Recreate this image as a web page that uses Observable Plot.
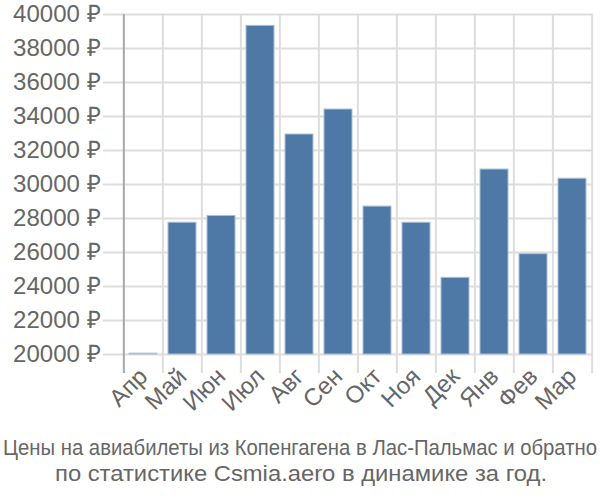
<!DOCTYPE html>
<html>
<head>
<meta charset="utf-8">
<script src="https://cdn.jsdelivr.net/npm/d3@7"></script>
<script src="https://cdn.jsdelivr.net/npm/@observablehq/plot@0.6"></script>
<style>
  body { margin: 0; background: #fff; }
  #chart svg { display: block; }
</style>
</head>
<body>
<div id="chart"></div>
<script>
const months = ["Апр","Май","Июн","Июл","Авг","Сен","Окт","Ноя","Дек","Янв","Фев","Мар"];
const prices = [20050, 27750, 28150, 39330, 32940, 34410, 28700, 27750, 24510, 30880, 25900, 30340];
const yTicks = [20000, 22000, 24000, 26000, 28000, 30000, 32000, 34000, 36000, 38000, 40000];
const captionLines = [
  "Цены на авиабилеты из Копенгагена в Лас-Пальмас и обратно",
  "по статистике Csmia.aero в динамике за год."
];

const data = months.map((m, i) => ({month: m, price: prices[i]}));
const W = 600, H = 425, mL = 122, mR = 7;
const step = (W - mL - mR) / months.length;
const font = "'Liberation Sans', Arial, sans-serif";

const chart = Plot.plot({
  width: W,
  height: H,
  marginTop: 14,
  marginBottom: 71,
  marginLeft: mL,
  marginRight: mR,
  style: {fontFamily: font, fontSize: "24px", color: "#666", background: "#fff", overflow: "visible"},
  x: {domain: months, paddingInner: 0.28, paddingOuter: 0.14},
  y: {domain: [20000, 40000]},
  marks: [
    Plot.ruleY(yTicks, {stroke: "#ddd", strokeWidth: 2, insetLeft: -19}),
    Plot.ruleX(months, {x: d => d, dx: -step / 2, stroke: "#ddd", strokeWidth: 2, insetBottom: -19}),
    Plot.ruleX([months[months.length - 1]], {x: d => d, dx: step / 2, stroke: "#ddd", strokeWidth: 2, insetBottom: -19}),
    Plot.ruleX([months[0]], {x: d => d, dx: -step / 2, stroke: "#aaa", strokeWidth: 2, insetBottom: -19}),
    Plot.barY(data, {x: "month", y1: 20000, y2: "price", fill: "#4e79a7", stroke: "#a9bfd6", strokeWidth: 1}),
    Plot.axisY(yTicks, {tickSize: 0, tickPadding: 22, tickFormat: d => d + " ₽", fill: "#666", label: null}),
    Plot.axisX({tickSize: 0, tickRotate: -45, tickPadding: 18, fill: "#666", label: null})
  ]
});
d3.select(chart).selectAll("text").style("font-size", "24px").style("font-family", font);
document.getElementById("chart").appendChild(chart);

const ns = "http://www.w3.org/2000/svg";
const cap = document.createElementNS(ns, "svg");
cap.setAttribute("width", W);
cap.setAttribute("height", 75);
cap.style.display = "block";
const baselines = [30, 56];
const lengths = [594, 492];
const centers = [300, 301];
captionLines.forEach((t, i) => {
  const el = document.createElementNS(ns, "text");
  el.setAttribute("x", centers[i]);
  el.setAttribute("y", baselines[i]);
  el.setAttribute("text-anchor", "middle");
  el.setAttribute("fill", "#666");
  el.setAttribute("font-family", font);
  el.setAttribute("font-size", "22");
  el.setAttribute("textLength", lengths[i]);
  el.setAttribute("lengthAdjust", "spacingAndGlyphs");
  el.textContent = t;
  cap.appendChild(el);
});
document.getElementById("chart").appendChild(cap);
</script>
</body>
</html>
